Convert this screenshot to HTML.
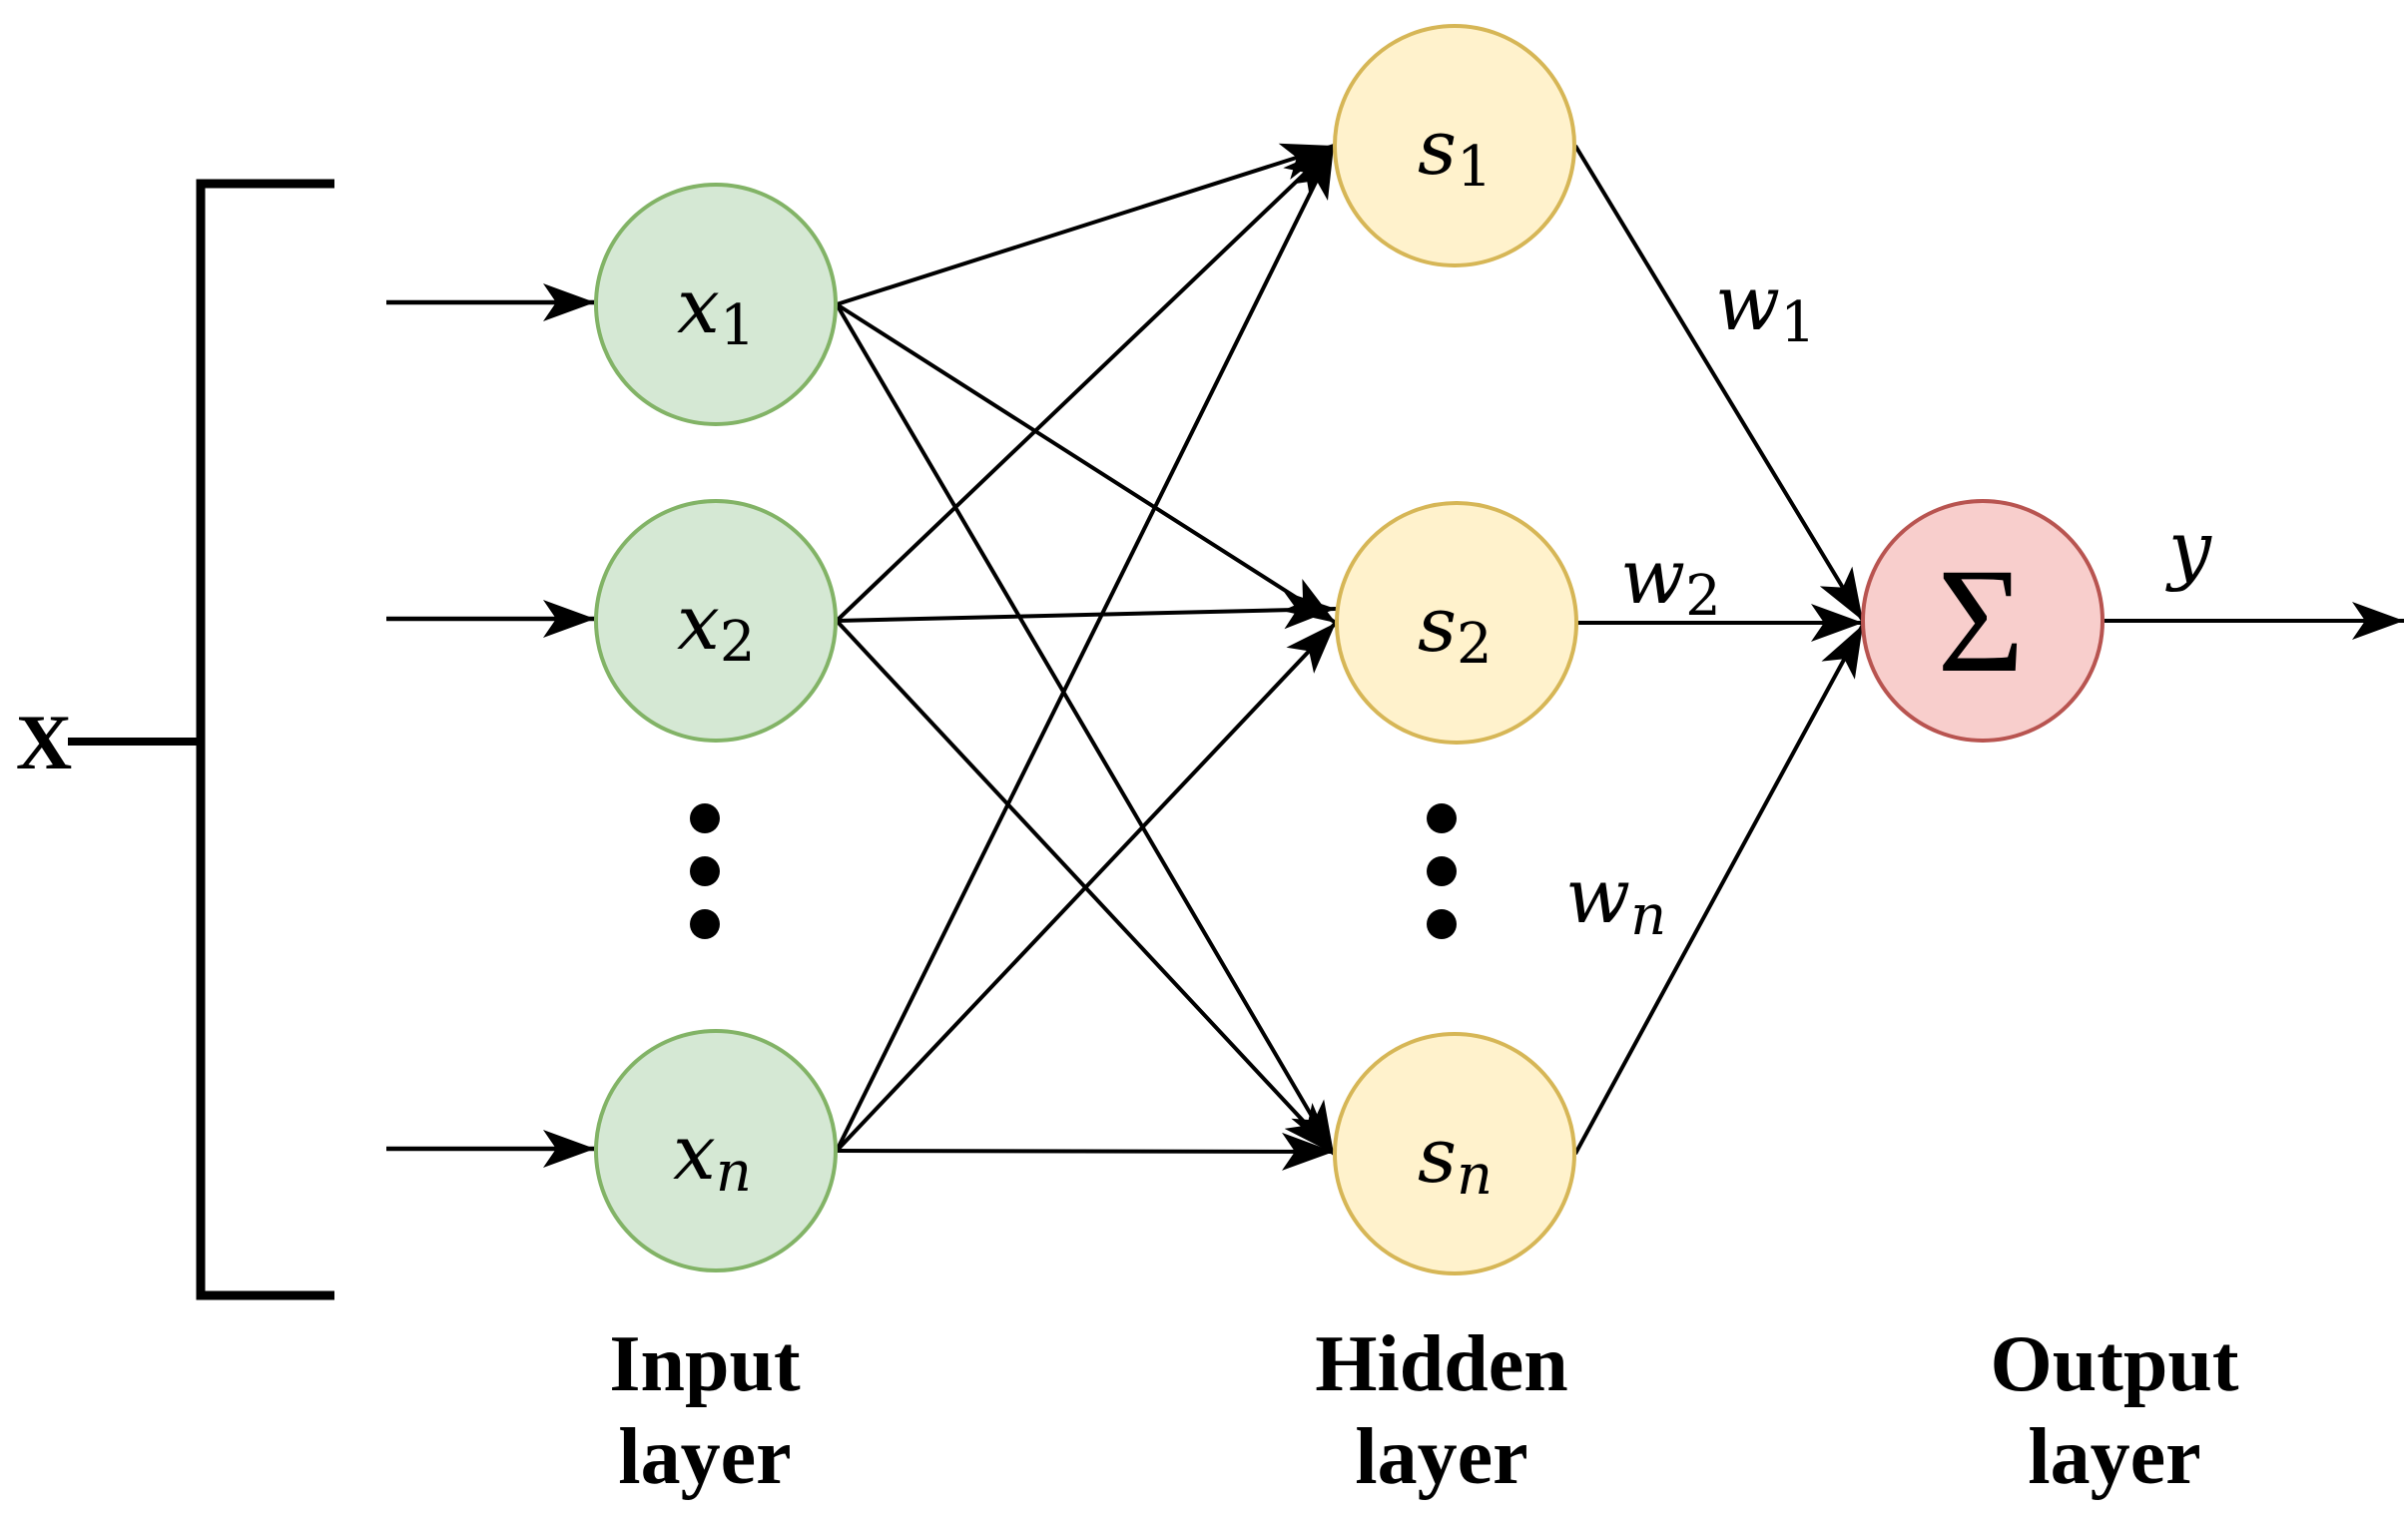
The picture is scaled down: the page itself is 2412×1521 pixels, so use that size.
<!DOCTYPE html>
<html><head><style>
html,body{margin:0;padding:0;background:#fff;}
svg{display:block;}
</style></head><body>
<svg width="2412" height="1521" viewBox="0 0 2412 1521" xmlns="http://www.w3.org/2000/svg">
<defs>
<marker id="a" markerUnits="userSpaceOnUse" markerWidth="56" markerHeight="44" refX="52" refY="22" orient="auto">
<path d="M0,3 L52,22 L0,41 L13,22 Z" fill="#000"/>
</marker>
</defs>
<path d="M335,184 L201,184 L201,1298 L335,1298" fill="none" stroke="#000" stroke-width="9"/>
<line x1="68" y1="743" x2="201" y2="743" stroke="#000" stroke-width="8"/>
<text x="44" y="770" font-family="Liberation Serif, serif" font-weight="bold" font-size="78" text-anchor="middle">X</text>
<g stroke="#000" stroke-width="4.5" fill="none">
<line x1="387" y1="303" x2="596" y2="303" marker-end="url(#a)"/>
<line x1="387" y1="620" x2="596" y2="620" marker-end="url(#a)"/>
<line x1="387" y1="1151" x2="596" y2="1151" marker-end="url(#a)"/>
</g>
<g stroke="#000" stroke-width="4" fill="none" marker-end="url(#a)">
<line x1="838" y1="305" x2="1336" y2="146"/>
<line x1="838" y1="305" x2="1338" y2="624"/>
<line x1="838" y1="305" x2="1336" y2="1156"/>
<line x1="838" y1="622" x2="1336" y2="146"/>
<line x1="838" y1="622" x2="1338" y2="610"/>
<line x1="838" y1="622" x2="1336" y2="1156"/>
<line x1="838" y1="1153" x2="1336" y2="146"/>
<line x1="838" y1="1153" x2="1338" y2="624"/>
<line x1="838" y1="1153" x2="1336" y2="1154"/>
</g>
<g stroke="#000" stroke-width="4" fill="none" marker-end="url(#a)">
<line x1="1578" y1="146" x2="1866" y2="622"/>
<line x1="1580" y1="624" x2="1866" y2="624"/>
<line x1="1578" y1="1156" x2="1866" y2="626"/>
<line x1="2108" y1="622" x2="2408" y2="622"/>
</g>
<g stroke-width="4">
<circle cx="717" cy="305" r="120" fill="#d5e8d4" stroke="#82b366"/>
<circle cx="717" cy="622" r="120" fill="#d5e8d4" stroke="#82b366"/>
<circle cx="717" cy="1153" r="120" fill="#d5e8d4" stroke="#82b366"/>
<circle cx="1457" cy="146" r="120" fill="#fff2cc" stroke="#d6b656"/>
<circle cx="1459" cy="624" r="120" fill="#fff2cc" stroke="#d6b656"/>
<circle cx="1457" cy="1156" r="120" fill="#fff2cc" stroke="#d6b656"/>
<circle cx="1986" cy="622" r="120" fill="#f8cecc" stroke="#b85450"/>
</g>
<g fill="#000">
<circle cx="706" cy="820" r="15"/><circle cx="706" cy="873" r="15"/><circle cx="706" cy="926" r="15"/>
<circle cx="1444" cy="820" r="15"/><circle cx="1444" cy="873" r="15"/><circle cx="1444" cy="926" r="15"/>
</g>
<g font-family="DejaVu Serif, serif" font-style="italic" font-size="76">
<text x="678" y="333">x<tspan font-style="normal" font-size="56" dy="12">1</tspan></text>
<text x="678" y="650">x<tspan font-style="normal" font-size="56" dy="12">2</tspan></text>
<text x="674" y="1181">x<tspan font-size="56" dy="12">n</tspan></text>
<text x="1420" y="174">s<tspan font-style="normal" font-size="56" dy="12">1</tspan></text>
<text x="1420" y="652">s<tspan font-style="normal" font-size="56" dy="12">2</tspan></text>
<text x="1420" y="1184">s<tspan font-size="56" dy="12">n</tspan></text>
<text x="1718" y="330">w<tspan font-style="normal" font-size="56" dy="12">1</tspan></text>
<text x="1623" y="604">w<tspan font-style="normal" font-size="56" dy="12">2</tspan></text>
<text x="1568" y="924">w<tspan font-size="56" dy="12">n</tspan></text>
<text x="2172" y="576">y</text>
</g>
<text x="1984" y="672" font-family="Liberation Serif, serif" font-size="150" text-anchor="middle">Σ</text>
<g font-family="Liberation Serif, serif" font-weight="bold" font-size="80" text-anchor="middle">
<text x="706" y="1393">Input</text>
<text x="706" y="1486">layer</text>
<text x="1444" y="1393">Hidden</text>
<text x="1444" y="1486">layer</text>
<text x="2118" y="1393">Output</text>
<text x="2118" y="1486">layer</text>
</g>
</svg>
</body></html>
